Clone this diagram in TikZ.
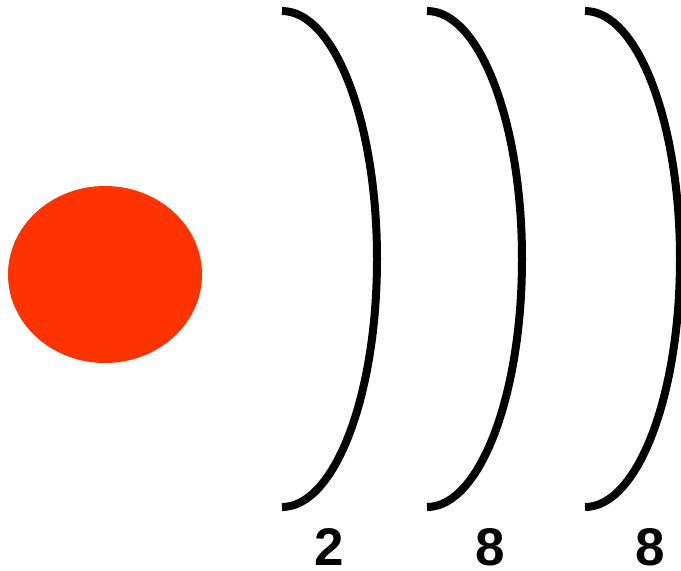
\documentclass[tikz,border=0pt]{standalone}
\usepackage{fontspec}
\setmainfont{Liberation Sans}
\definecolor{nucleus}{RGB}{255,51,0}
\begin{document}
\begin{tikzpicture}[x=1pt,y=-1pt,line width=8pt,
  font=\fontsize{53}{60}\selectfont\bfseries]
  \useasboundingbox (0,0) rectangle (681,571);
  % Each shell is half an ellipse, opening back towards the nucleus.
  \def\sH#1{%
    \draw (#1,11) arc[start angle=-90,end angle=90,
      x radius=95,y radius=248];}
  \fill[nucleus] (105,274.5) ellipse[x radius=97,y radius=88.5];
  \sH{282}
  \sH{427}
  \sH{585}
  \node (k) at (329,547) {2};
  \node (l) at (490,547) {8};
  \node (m) at (650,547) {8};
\end{tikzpicture}
\end{document}
